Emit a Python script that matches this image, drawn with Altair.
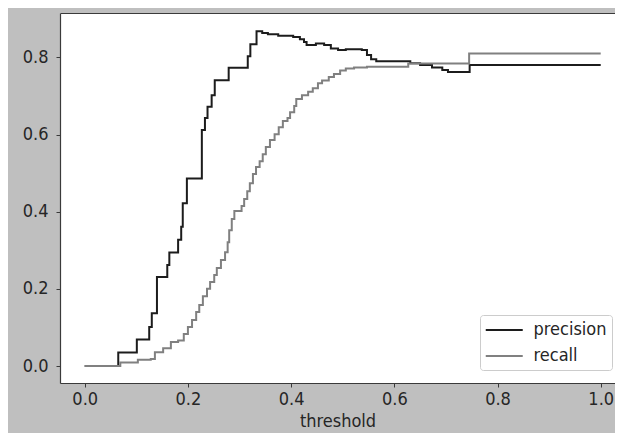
import altair as alt
import pandas as pd

# precision step curve (threshold where step starts, value)
prec_thr = [0.0, 0.065, 0.101, 0.125, 0.130, 0.140, 0.160, 0.164, 0.181, 0.187, 0.190,
            0.198, 0.227, 0.233, 0.238, 0.246, 0.252, 0.279, 0.316, 0.321, 0.333,
            0.344, 0.355, 0.375, 0.404, 0.417, 0.425, 0.430, 0.448, 0.464, 0.477,
            0.491, 0.506, 0.537, 0.547, 0.555, 0.565, 0.631, 0.650, 0.673, 0.693,
            0.704, 0.746, 1.0]
prec_val = [0.0, 0.035, 0.069, 0.101, 0.137, 0.231, 0.262, 0.294, 0.327, 0.361, 0.422,
            0.486, 0.612, 0.643, 0.672, 0.702, 0.741, 0.773, 0.803, 0.834, 0.868,
            0.863, 0.860, 0.856, 0.853, 0.847, 0.840, 0.832, 0.836, 0.832, 0.823,
            0.819, 0.821, 0.819, 0.806, 0.795, 0.790, 0.785, 0.780, 0.774, 0.767,
            0.762, 0.780, 0.780]

# recall step curve
rec_thr = [0.0, 0.069, 0.103, 0.128, 0.136, 0.152, 0.167, 0.181, 0.192, 0.200, 0.208,
           0.216, 0.222, 0.229, 0.237, 0.243, 0.251, 0.256, 0.264, 0.272, 0.277,
           0.280, 0.285, 0.290, 0.304, 0.309, 0.315, 0.320, 0.326, 0.332, 0.339,
           0.345, 0.351, 0.359, 0.368, 0.376, 0.384, 0.393, 0.398, 0.406, 0.410,
           0.421, 0.433, 0.442, 0.452, 0.460, 0.473, 0.483, 0.495, 0.506, 0.522,
           0.547, 0.627, 0.745, 1.0]
rec_val = [0.0, 0.009, 0.016, 0.018, 0.036, 0.046, 0.062, 0.066, 0.083, 0.101, 0.119,
           0.140, 0.158, 0.181, 0.200, 0.218, 0.236, 0.254, 0.275, 0.295, 0.321,
           0.352, 0.381, 0.402, 0.415, 0.433, 0.453, 0.474, 0.498, 0.516, 0.531,
           0.549, 0.568, 0.586, 0.601, 0.619, 0.635, 0.643, 0.658, 0.674, 0.692,
           0.702, 0.711, 0.720, 0.733, 0.740, 0.749, 0.757, 0.766, 0.771, 0.774,
           0.776, 0.784, 0.810, 0.810]

series_names = ["precision", "recall"]
series_colors = ["#1c1c1c", "#808080"]
x_ticks = [0.0, 0.2, 0.4, 0.6, 0.8, 1.0]
y_ticks = [0.0, 0.2, 0.4, 0.6, 0.8]

df = pd.concat([
    pd.DataFrame({"threshold": prec_thr, "value": prec_val, "series": series_names[0]}),
    pd.DataFrame({"threshold": rec_thr, "value": rec_val, "series": series_names[1]}),
], ignore_index=True)

FONT = "DejaVu Sans Condensed"
FS = 18
SPINE = "#3a3a3a"

xscale = alt.Scale(domain=[-0.0479, 1.0277], nice=False, zero=False)
yscale = alt.Scale(domain=[-0.044, 0.915], nice=False, zero=False)

lines = alt.Chart(df).mark_line(interpolate="step-after", strokeWidth=2, clip=True).encode(
    x=alt.X("threshold:Q", scale=xscale,
            axis=alt.Axis(values=x_ticks, format=".1f", title="threshold", grid=False,
                          domain=True, domainColor=SPINE, domainWidth=1.2,
                          tickSize=4, tickColor=SPINE,
                          labelPadding=3, titlePadding=4)),
    y=alt.Y("value:Q", scale=yscale,
            axis=alt.Axis(values=y_ticks, format=".1f", title=None, grid=False,
                          domain=True, domainColor=SPINE, domainWidth=1.2,
                          tickSize=4, tickColor=SPINE,
                          labelPadding=8)),
    color=alt.Color("series:N",
                    scale=alt.Scale(domain=series_names, range=series_colors),
                    legend=alt.Legend(title=None, orient="none", legendX=420, legendY=302,
                                      symbolType="M-1,0H3", symbolSize=342,
                                      symbolStrokeWidth=2, labelOffset=28,
                                      rowPadding=6, padding=4.5,
                                      fillColor="white", strokeColor="#cccccc",
                                      cornerRadius=3)),
)

# invisible layer that only carries the top spine
top_spine = alt.Chart(df).mark_line(opacity=0).encode(
    x=alt.X("threshold:Q", scale=xscale,
            axis=alt.Axis(orient="top", labels=False, ticks=False, title=None, grid=False,
                          domain=True, domainColor=SPINE, domainWidth=1.2)),
    y=alt.Y("value:Q", scale=yscale),
)

chart = alt.layer(lines, top_spine).resolve_axis(x="independent").properties(
    width=555, height=370,
    padding={"left": 52, "top": 5, "right": 0, "bottom": 50},
    autosize=alt.AutoSizeParams(type="none"),
    background="#bfbfbf",
).configure_view(
    fill="white", stroke=None,
).configure_axis(
    labelFont=FONT, labelFontSize=FS, labelColor="#262626",
    titleFont=FONT, titleFontSize=FS, titleColor="#262626", titleFontWeight="normal",
).configure_legend(
    labelFont=FONT, labelFontSize=FS, labelColor="#262626",
)

chart.save("out.html", embed_options={"renderer": "svg", "actions": False})
